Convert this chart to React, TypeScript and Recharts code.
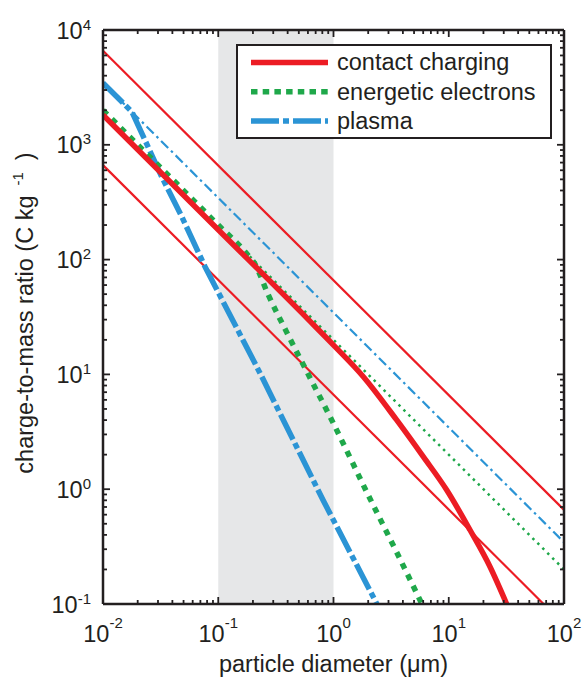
import React from 'react';
import {ComposedChart, Line, XAxis, YAxis, ReferenceArea, Legend} from 'recharts';

// colours
const RED = '#EC1C24';
const GREEN = '#1FA84A';
const BLUE = '#2B94D5';
const INK = '#231F20';
const FONT = '"Liberation Sans", Arial, Helvetica, sans-serif';

// axis decades (log scale)
const xDecades = [0.01, 0.1, 1, 10, 100];
const yDecades = [0.1, 1, 10, 100, 1000, 10000];
const minorSteps = [2, 3, 4, 5, 6, 7, 8, 9];

// particle diameter (um) / charge-to-mass (C/kg) pairs
const contactThick: [number, number][] = [
    [0.01, 1820], [0.1, 182], [0.6, 30.3], [1.0, 18.0], [1.815, 9.55], [3.53, 4.01],
    [6.01, 1.92], [9.6, 0.984], [15.3, 0.441], [22.8, 0.211], [31.8, 0.1],
];
const contactUpper: [number, number][] = [[0.01, 6600], [100, 0.66]];
const contactLower: [number, number][] = [[0.01, 665], [66.5, 0.1]];

const electronsThick: [number, number][] = [
    [0.01, 2000], [0.1, 200], [0.17, 117.6], [0.21, 90], [0.27, 50], [0.395, 23],
    [0.589, 10.5], [0.964, 4.01], [2.0, 0.89], [3.56, 0.278], [5.85, 0.1],
];
const electronsThin: [number, number][] = [[0.17, 117.6], [100, 0.2]];

const plasmaThick: [number, number][] = [
    [0.01, 3450], [0.0178, 1940], [0.0231, 1101], [0.0323, 527], [0.0482, 237],
    [0.0768, 86.6], [0.23, 10.3], [0.811, 0.805], [2.38, 0.1],
];
const plasmaThin: [number, number][] = [[0.01, 3450], [100, 0.345]];

const shadeRange = [0.1, 1];

const legendRows = [
    {name: 'contact charging', color: RED, dash: undefined},
    {name: 'energetic electrons', color: GREEN, dash: '6.5 5.2'},
    {name: 'plasma', color: BLUE, dash: '28 4 6 4'},
];

const toPoints = (pairs: [number, number][]) => pairs.map(([x, y]) => ({x, y}));

const withMinors = (decades: number[]) => {
    let out: number[] = [];
    decades.forEach((d, i) => {
        out.push(d);
        if (i < decades.length - 1) minorSteps.forEach(m => out.push(+(d * m).toPrecision(6)));
    });
    return out;
};
const xTicks = withMinors(xDecades);
const yTicks = withMinors(yDecades);

const isMajor = (v: number) => Math.abs(Math.log10(v) - Math.round(Math.log10(v))) < 1e-6;

function makeTick(side: string) {
    return (props: any) => {
        const {x, y, payload} = props;
        const v = payload.value;
        const major = isMajor(v);
        const len = major ? 7 : 4;
        let x2 = x, y2 = y;
        if (side === 'bottom') y2 = y - len;
        if (side === 'top') y2 = y + len;
        if (side === 'left') x2 = x + len;
        if (side === 'right') x2 = x - len;
        const exp = String(Math.round(Math.log10(v)));
        let label = null;
        if (major && side === 'bottom') {
            label = (
                <text x={x} y={y + 38} textAnchor="middle" fontFamily={FONT} fontSize={23.5} fill={INK}>
                    <tspan>10</tspan>
                    <tspan dy={-14} fontSize={15}>{exp}</tspan>
                </text>
            );
        }
        if (major && side === 'left') {
            label = (
                <text x={x - 12} y={y + 8.5} textAnchor="end" fontFamily={FONT} fontSize={23.5} fill={INK}>
                    <tspan>10</tspan>
                    <tspan dy={-9} fontSize={15}>{exp}</tspan>
                </text>
            );
        }
        return (
            <g>
                <line x1={x} y1={y} x2={x2} y2={y2} stroke={INK} strokeWidth={1.8}/>
                {label}
            </g>
        );
    };
}

const XLabel = (props: any) => {
    const vb = props.viewBox || {x: 103, y: 604, width: 461, height: 73};
    return (
        <text x={vb.x + vb.width / 2} y={vb.y + 68} textAnchor="middle" fontFamily={FONT}
              fontSize={23.5} fill={INK}>
            particle diameter (μm)
        </text>
    );
};

const YLabel = (props: any) => {
    const vb = props.viewBox || {x: 0, y: 30, width: 103, height: 574};
    const cx = vb.x + 33;
    const cy = vb.y + vb.height / 2 - 4;
    return (
        <text transform={`translate(${cx},${cy}) rotate(-90)`} x={0} y={0} textAnchor="middle"
              fontFamily={FONT} fontSize={23.5} fill={INK}>
            <tspan>charge-to-mass ratio (C kg</tspan>
            <tspan dx={10} dy={-10} fontSize={15}>-1</tspan>
            <tspan dx={12} dy={10}>)</tspan>
        </text>
    );
};

const renderLegend = () => (
    <div style={{
        width: 316, height: 95, boxSizing: 'border-box', border: `2px solid ${INK}`,
        background: '#fff'
    }}>
        <svg width={312} height={91} style={{display: 'block'}}>
            {legendRows.map((row, i) => {
                const cy = 16.5 + i * 29.3;
                return (
                    <g key={row.name}>
                        <line x1={13} x2={90} y1={cy} y2={cy} stroke={row.color} strokeWidth={5.5}
                              strokeDasharray={row.dash}/>
                        <text x={99} y={cy + 7.7} fontFamily={FONT} fontSize={23.5} fill={INK}>
                            {row.name}
                        </text>
                    </g>
                );
            })}
        </svg>
    </div>
);

export default function App() {
    const axisLine = {stroke: INK, strokeWidth: 2.5};
    return (
        <div style={{position: 'absolute', left: 0, top: 0}}>
            <ComposedChart width={583} height={677} margin={{top: 0, right: 0, bottom: 0, left: 0}}>
                <XAxis xAxisId={0} dataKey="x" type="number" scale="log" domain={[0.01, 100]}
                       ticks={xTicks} interval={0} height={73} tickSize={0} tickMargin={0}
                       tickLine={false} axisLine={axisLine} tick={makeTick('bottom')}
                       allowDataOverflow label={{content: XLabel}}/>
                <XAxis xAxisId="top" orientation="top" dataKey="x" type="number" scale="log"
                       domain={[0.01, 100]} ticks={xTicks} interval={0} height={30} tickSize={0}
                       tickMargin={0} tickLine={false} axisLine={axisLine} tick={makeTick('top')}
                       allowDataOverflow/>
                <YAxis yAxisId={0} dataKey="y" type="number" scale="log" domain={[0.1, 10000]}
                       ticks={yTicks} interval={0} width={103} tickSize={0} tickMargin={0}
                       tickLine={false} axisLine={axisLine} tick={makeTick('left')}
                       allowDataOverflow label={{content: YLabel}}/>
                <YAxis yAxisId="right" orientation="right" dataKey="y" type="number" scale="log"
                       domain={[0.1, 10000]} ticks={yTicks} interval={0} width={19} tickSize={0}
                       tickMargin={0} tickLine={false} axisLine={axisLine} tick={makeTick('right')}
                       allowDataOverflow/>
                <ReferenceArea x1={shadeRange[0]} x2={shadeRange[1]} y1={0.1} y2={10000}
                               fill="#E6E7E8" fillOpacity={1} stroke="none"/>
                <Line data={toPoints(plasmaThin)} dataKey="y" type="linear" stroke={BLUE} strokeWidth={2.2}
                      strokeDasharray="10 4 2.5 4" dot={false} activeDot={false} isAnimationActive={false}/>
                <Line data={toPoints(electronsThin)} dataKey="y" type="linear" stroke={GREEN}
                      strokeWidth={2.5} strokeDasharray="2.5 4.5" dot={false} activeDot={false}
                      isAnimationActive={false}/>
                <Line data={toPoints(contactUpper)} dataKey="y" type="linear" stroke={RED} strokeWidth={2.2}
                      dot={false} activeDot={false} isAnimationActive={false}/>
                <Line data={toPoints(contactLower)} dataKey="y" type="linear" stroke={RED} strokeWidth={2.2}
                      dot={false} activeDot={false} isAnimationActive={false}/>
                <Line data={toPoints(plasmaThick)} dataKey="y" type="linear" stroke={BLUE}
                      strokeWidth={5.5} strokeDasharray="28 4 6 4" dot={false} activeDot={false}
                      isAnimationActive={false}/>
                <Line data={toPoints(electronsThick)} dataKey="y" type="monotone" stroke={GREEN}
                      strokeWidth={5.5} strokeDasharray="6 6.5" dot={false} activeDot={false}
                      isAnimationActive={false}/>
                <Line data={toPoints(contactThick)} dataKey="y" type="monotone" stroke={RED}
                      strokeWidth={5.5} dot={false} activeDot={false} isAnimationActive={false}/>
                <Legend layout="vertical" align="center" verticalAlign="middle" content={renderLegend}
                        wrapperStyle={{left: 236, top: 44, width: 316, height: 95}}/>
            </ComposedChart>
        </div>
    );
}
